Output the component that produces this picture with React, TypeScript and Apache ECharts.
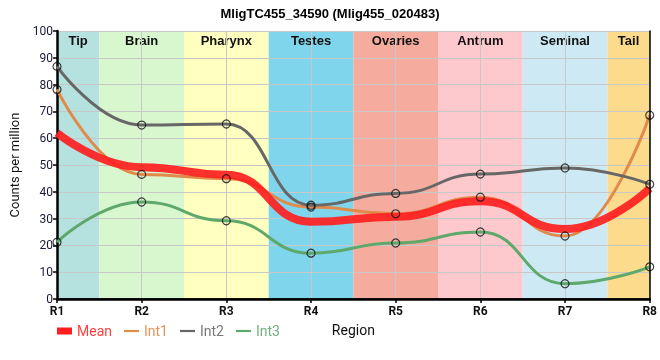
import React, { useEffect, useRef } from "react";
import * as echarts from "echarts";

const regions = ["R1", "R2", "R3", "R4", "R5", "R6", "R7", "R8"];
const positions = [1, 2, 3, 4, 5, 6, 7, 8];
const meanValues = [62, 49.2, 46.4, 28.8, 30.7, 36.5, 26.1, 41.3];
const int1Values = [78.2, 46.5, 44.9, 34.3, 31.8, 38, 23.5, 68.6];
const int2Values = [86.8, 64.9, 65.3, 35, 39.4, 46.6, 48.9, 42.8];
const int3Values = [21.2, 36.2, 29.2, 17.1, 20.9, 25, 5.7, 12];
const bandNames = ["Tip", "Brain", "Pharynx", "Testes", "Ovaries", "Antrum", "Seminal", "Tail"];
const bandStarts = [1, 1.5, 2.5, 3.5, 4.5, 5.5, 6.5, 7.5];
const bandEnds = [1.5, 2.5, 3.5, 4.5, 5.5, 6.5, 7.5, 8];
const bandColors = ["#b5e2de", "#d9f7cf", "#ffffbf", "#7fd5ec", "#f5ab9e", "#fec9cc", "#cdeaf4", "#fddb8c"];
const seriesNames = ["Mean", "Int1", "Int2", "Int3"];
const seriesColors = ["#ff1f1f", "#e08a4b", "#676767", "#5ea86b"];
const legendTextColors = ["#ff4040", "#e8935a", "#7a7a7a", "#72b07e"];

const pairs = (vals: number[]) => positions.map((p, i) => [p, vals[i]]);

export default function App() {
  const ref = useRef<HTMLDivElement>(null);
  useEffect(() => {
    if (!ref.current) return;
    const chart = echarts.init(ref.current, undefined, { renderer: "svg" });
    const intVals = [int1Values, int2Values, int3Values];
    const lineSeries: any[] = [
      {
        name: "Mean",
        type: "line",
        data: pairs(meanValues),
        smooth: 0.5,
        smoothMonotone: "x",
        showSymbol: false,
        symbol: "none",
        z: 4,
        lineStyle: { color: seriesColors[0], width: 8, opacity: 0.92 },
        itemStyle: { color: seriesColors[0] },
        markArea: {
          z: 1,
          silent: true,
          label: {
            position: "insideTop",
            distance: 3,
            fontFamily: "Liberation Sans",
            fontWeight: "bold",
            fontSize: 13,
            color: "#111",
          },
          data: bandNames.map((n, i) => [
            { name: n, xAxis: bandStarts[i], itemStyle: { color: bandColors[i], opacity: 1 } },
            { xAxis: bandEnds[i] },
          ]),
        },
      },
    ];
    intVals.forEach((vals, k) => {
      lineSeries.push({
        name: seriesNames[k + 1],
        type: "line",
        data: pairs(vals),
        smooth: 0.5,
        smoothMonotone: "x",
        showSymbol: false,
        symbol: "none",
        z: 3,
        lineStyle: { color: seriesColors[k + 1], width: 3 },
        itemStyle: { color: seriesColors[k + 1] },
      });
    });
    intVals.forEach((vals, k) => {
      lineSeries.push({
        name: seriesNames[k + 1] + " points",
        type: "scatter",
        data: pairs(vals),
        symbol: "circle",
        symbolSize: 8,
        z: 5,
        clip: false,
        itemStyle: { color: "rgba(255,255,255,0)", borderColor: "#111", borderWidth: 1.2 },
      });
    });
    chart.setOption({
      animation: false,
      title: {
        text: "MligTC455_34590 (Mlig455_020483)",
        left: "center",
        top: 2,
        textStyle: { fontFamily: "Liberation Sans", fontWeight: "bold", fontSize: 13, color: "#000" },
      },
      legend: {
        left: 52,
        top: 319,
        itemWidth: 15,
        itemHeight: 7,
        itemGap: 12,
        textStyle: { fontFamily: "Roboto", fontSize: 14 },
        data: seriesNames.map((n, i) => ({
          name: n,
          icon: i === 0 ? "rect" : "path://M0,0h15v2.2h-15z",
          itemStyle: { color: seriesColors[i] },
          textStyle: { color: legendTextColors[i] },
        })),
      },
      grid: { left: 50, right: 10, top: 31, bottom: 61 },
      xAxis: [
        {
          type: "value",
          min: 1,
          max: 8,
          interval: 1,
          z: 2,
          name: "Region",
          nameLocation: "middle",
          nameGap: 24,
          nameTextStyle: { fontFamily: "Roboto", fontSize: 14, color: "#111" },
          axisLine: { lineStyle: { color: "#000", width: 2.5 } },
          axisTick: { show: true, length: 4, lineStyle: { color: "#000", width: 1.5 } },
          axisLabel: {
            formatter: (v: number) => regions[Math.round(v) - 1] ?? "",
            fontFamily: "Roboto",
            fontWeight: "bold",
            fontSize: 12,
            color: "#111",
            margin: 6,
          },
          splitLine: { show: true, lineStyle: { color: "#c8c8c8", width: 1 } },
        },
        {
          type: "value",
          min: 1,
          max: 8,
          position: "top",
          z: 6,
          axisLine: { show: true, lineStyle: { color: "#000", width: 1.5 } },
          axisTick: { show: false },
          axisLabel: { show: false },
          splitLine: { show: false },
        },
      ],
      yAxis: [
        {
          type: "value",
          min: 0,
          max: 100,
          interval: 10,
          z: 2,
          name: "Counts per million",
          nameLocation: "middle",
          nameGap: 36,
          nameTextStyle: { fontFamily: "Roboto", fontSize: 13, color: "#111" },
          axisLine: { show: true, lineStyle: { color: "#000", width: 2.5 } },
          axisTick: { show: true, length: 4, lineStyle: { color: "#000", width: 1.5 } },
          axisLabel: { fontFamily: "Roboto", fontSize: 12, color: "#1a1a3a", margin: 4 },
          splitLine: { show: true, lineStyle: { color: "#c8c8c8", width: 1 } },
        },
        {
          type: "value",
          min: 0,
          max: 100,
          position: "right",
          z: 6,
          axisLine: { show: true, lineStyle: { color: "#000", width: 1.5 } },
          axisTick: { show: false },
          axisLabel: { show: false },
          splitLine: { show: false },
        },
      ],
      series: lineSeries,
    });
    return () => chart.dispose();
  }, []);
  return (
    <div
      ref={ref}
      style={{ position: "fixed", left: 0, top: 0, width: 660, height: 360 }}
    />
  );
}
